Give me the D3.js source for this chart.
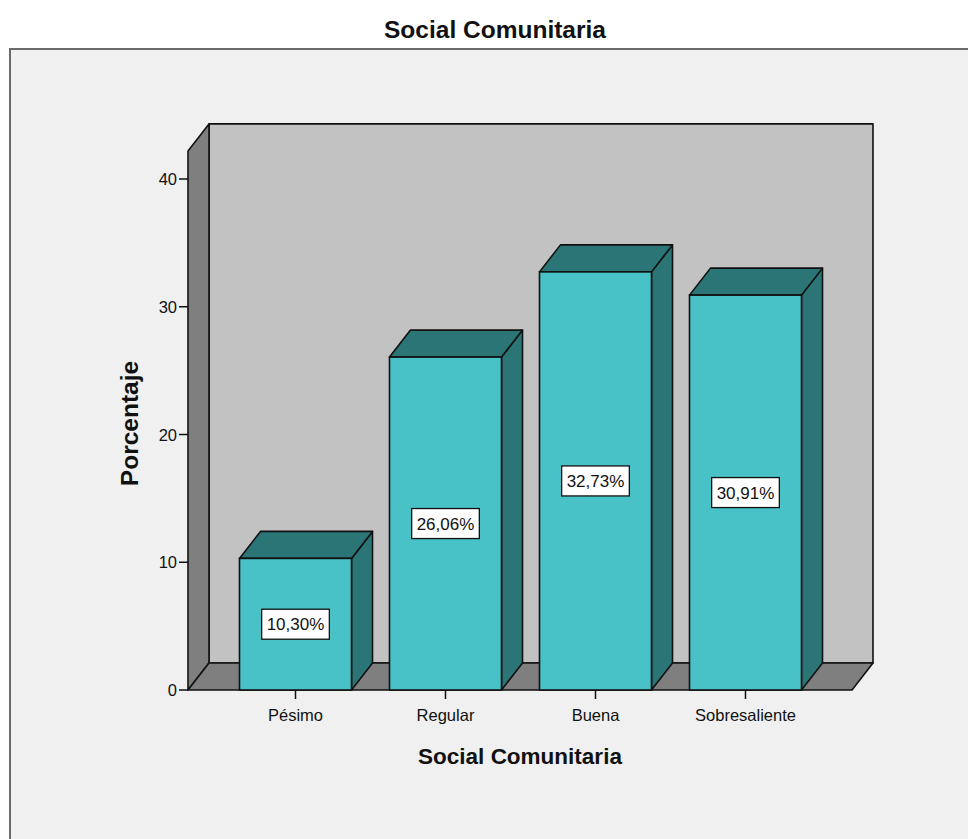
<!DOCTYPE html>
<html>
<head>
<meta charset="utf-8">
<script src="https://cdn.jsdelivr.net/npm/d3@7"></script>
<style>
  html, body { margin: 0; padding: 0; background: #ffffff; }
  svg { display: block; font-family: "Liberation Sans", Arial, sans-serif; }
</style>
</head>
<body>
<svg id="chart" width="968" height="839"></svg>
<script>
// Porcentaje por categoría de "Social Comunitaria"
const categories = ["Pésimo", "Regular", "Buena", "Sobresaliente"];
const percentages = [10.30, 26.06, 32.73, 30.91];
const yTicks = [0, 10, 20, 30, 40];
const valueLabels = ["10,30%", "26,06%", "32,73%", "30,91%"];

const chartTitle = "Social Comunitaria";
const xTitle = "Social Comunitaria";
const yTitle = "Porcentaje";

const svg = d3.select("#chart");

// Plot geometry (front plane) and 3D depth offset
const plot = { left: 188, right: 852, bottom: 690 };
const depth = { dx: 21, dy: -27 };
const wallMax = 42.2;

const y = d3.scaleLinear().domain([0, 40]).range([plot.bottom, 179]);
const x = d3.scaleBand()
  .domain(categories)
  .range([220.5, 820.5])
  .paddingInner(0.2533)
  .paddingOuter(0.1267);

const colors = {
  panel: "#f0f0f0",
  frame: "#6b6b6b",
  backWall: "#c2c2c2",
  sideWall: "#7f7f7f",
  barFront: "#48c2c6",
  barDark: "#2c7576",
  stroke: "#111111"
};

// Outer panel
svg.append("rect")
  .attr("x", 10).attr("y", 49)
  .attr("width", 1000).attr("height", 900)
  .attr("fill", colors.panel)
  .attr("stroke", colors.frame)
  .attr("stroke-width", 2);

// Title
svg.append("text")
  .attr("x", 495).attr("y", 38)
  .attr("text-anchor", "middle")
  .attr("font-size", 24.5).attr("font-weight", "bold")
  .attr("fill", "#111")
  .text(chartTitle);

const g = svg.append("g");
const wallTop = y(wallMax);
const base = y(0);

const poly = pts => "M" + pts.map(p => p.join(",")).join("L") + "Z";

// Back wall
g.append("path")
  .attr("d", poly([
    [plot.left + depth.dx, wallTop + depth.dy],
    [plot.right + depth.dx, wallTop + depth.dy],
    [plot.right + depth.dx, base + depth.dy],
    [plot.left + depth.dx, base + depth.dy]
  ]))
  .attr("fill", colors.backWall)
  .attr("stroke", colors.stroke).attr("stroke-width", 1.6)
  .attr("stroke-linejoin", "round");

// Left wall
g.append("path")
  .attr("d", poly([
    [plot.left, base],
    [plot.left, wallTop],
    [plot.left + depth.dx, wallTop + depth.dy],
    [plot.left + depth.dx, base + depth.dy]
  ]))
  .attr("fill", colors.sideWall)
  .attr("stroke", colors.stroke).attr("stroke-width", 1.6)
  .attr("stroke-linejoin", "round");

// Floor
g.append("path")
  .attr("d", poly([
    [plot.left, base],
    [plot.right, base],
    [plot.right + depth.dx, base + depth.dy],
    [plot.left + depth.dx, base + depth.dy]
  ]))
  .attr("fill", colors.sideWall)
  .attr("stroke", colors.stroke).attr("stroke-width", 1.6)
  .attr("stroke-linejoin", "round");

// Y axis ticks and labels
const yAxis = g.append("g");
yAxis.selectAll("line")
  .data(yTicks).join("line")
  .attr("x1", plot.left - 9).attr("x2", plot.left)
  .attr("y1", d => y(d)).attr("y2", d => y(d))
  .attr("stroke", colors.stroke).attr("stroke-width", 1.5);
yAxis.selectAll("text")
  .data(yTicks).join("text")
  .attr("x", plot.left - 11)
  .attr("y", d => y(d) + 6)
  .attr("text-anchor", "end")
  .attr("font-size", 16.5).attr("fill", "#111")
  .text(d => d);

// Bars
const bars = g.selectAll("g.bar")
  .data(categories.map((c, i) => ({ c, v: percentages[i], label: valueLabels[i] })))
  .join("g").attr("class", "bar");

bars.each(function(d) {
  const sel = d3.select(this);
  const x0 = x(d.c), x1 = x0 + x.bandwidth();
  const yv = y(d.v);
  // right side face
  sel.append("path")
    .attr("d", poly([
      [x1, yv], [x1 + depth.dx, yv + depth.dy],
      [x1 + depth.dx, base + depth.dy], [x1, base]
    ]))
    .attr("fill", colors.barDark)
    .attr("stroke", colors.stroke).attr("stroke-width", 1.6)
    .attr("stroke-linejoin", "round");
  // top face
  sel.append("path")
    .attr("d", poly([
      [x0, yv], [x0 + depth.dx, yv + depth.dy],
      [x1 + depth.dx, yv + depth.dy], [x1, yv]
    ]))
    .attr("fill", colors.barDark)
    .attr("stroke", colors.stroke).attr("stroke-width", 1.6)
    .attr("stroke-linejoin", "round");
  // front face
  sel.append("rect")
    .attr("x", x0).attr("y", yv)
    .attr("width", x.bandwidth()).attr("height", base - yv)
    .attr("fill", colors.barFront)
    .attr("stroke", colors.stroke).attr("stroke-width", 1.6);
});

// Category ticks and labels
const xAxis = g.append("g");
xAxis.selectAll("line")
  .data(categories).join("line")
  .attr("x1", d => x(d) + x.bandwidth() / 2)
  .attr("x2", d => x(d) + x.bandwidth() / 2)
  .attr("y1", base).attr("y2", base + 9)
  .attr("stroke", colors.stroke).attr("stroke-width", 1.5);
xAxis.selectAll("text")
  .data(categories).join("text")
  .attr("x", d => x(d) + x.bandwidth() / 2)
  .attr("y", base + 31)
  .attr("text-anchor", "middle")
  .attr("font-size", 16.5).attr("fill", "#111")
  .text(d => d);

// Value labels in white boxes, centred on the front face
bars.each(function(d) {
  const sel = d3.select(this);
  const cx = x(d.c) + x.bandwidth() / 2;
  const cy = (y(d.v) + base) / 2;
  const t = sel.append("text")
    .attr("x", cx).attr("y", cy + 6)
    .attr("text-anchor", "middle")
    .attr("font-size", 17).attr("fill", "#111")
    .text(d.label);
  const w = t.node().getComputedTextLength() + 10;
  sel.insert("rect", "text")
    .attr("x", cx - w / 2).attr("y", cy - 15)
    .attr("width", w).attr("height", 30)
    .attr("fill", "#ffffff")
    .attr("stroke", colors.stroke).attr("stroke-width", 1.3);
});

// Axis titles
svg.append("text")
  .attr("x", 520).attr("y", 764)
  .attr("text-anchor", "middle")
  .attr("font-size", 22.5).attr("font-weight", "bold")
  .attr("fill", "#111")
  .text(xTitle);

svg.append("text")
  .attr("transform", "translate(138,423.5) rotate(-90)")
  .attr("text-anchor", "middle")
  .attr("font-size", 24.5).attr("font-weight", "bold")
  .attr("fill", "#111")
  .text(yTitle);
</script>
</body>
</html>
